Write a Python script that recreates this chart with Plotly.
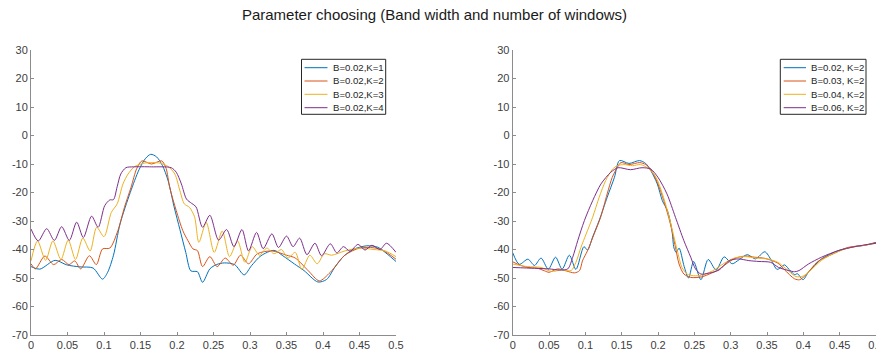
import plotly.graph_objects as go

W, H = 876, 356

# ---------------- Left panel: B = 0.02, K = 1..4 ----------------
f_k1 = [0, 0.012, 0.033, 0.049, 0.067, 0.085, 0.098, 0.105, 0.113, 0.122, 0.136, 0.148, 0.157,
        0.164, 0.172, 0.18, 0.188, 0.196, 0.204, 0.212, 0.219, 0.228, 0.235, 0.245, 0.254, 0.265,
        0.279, 0.292, 0.302, 0.315, 0.333, 0.345, 0.361, 0.374, 0.393, 0.405, 0.416, 0.429, 0.443,
        0.46, 0.475, 0.488, 0.5]
p_k1 = [-46, -46.9, -43.8, -45.4, -46.1, -46.5, -50.4, -48, -42, -31, -20, -12, -8,
        -6.6, -7.5, -10.5, -16, -25, -33, -41, -47.5, -47.8, -51.5, -46.8, -45.3, -44.7,
        -45.3, -48.9, -45.7, -42.2, -40.3, -42.2, -45.1, -47.4, -51.4, -50.5, -46.3, -42.2, -39.8,
        -38.7, -39.2, -41.6, -44.2]

f_k2 = [0, 0.006, 0.019, 0.031, 0.042, 0.052, 0.06, 0.068, 0.08, 0.0895, 0.098, 0.108, 0.119,
        0.128, 0.137, 0.145, 0.152, 0.165, 0.179, 0.185, 0.19, 0.199, 0.208, 0.215, 0.222, 0.228,
        0.235, 0.245, 0.255, 0.266, 0.277, 0.287, 0.298, 0.31, 0.33, 0.35, 0.362, 0.38, 0.395,
        0.41, 0.43, 0.45, 0.465, 0.48, 0.5]
p_k2 = [-45, -46.8, -42.3, -45.3, -43.5, -45.3, -44, -46.8, -42.2, -45.3, -39.8, -39.5, -33.4,
        -25.2, -18.2, -11.5, -8.9, -10, -8.9, -11.5, -18.2, -26.4, -33.4, -36.9, -39.8, -40.4,
        -46, -42.5, -46, -43, -45.5, -42, -45, -41.5, -40.5, -42, -43, -47.5, -51,
        -48, -42, -39.5, -39.3, -40, -43.4]

f_k3 = [0, 0.009, 0.02, 0.03, 0.041, 0.051, 0.061, 0.071, 0.081, 0.09, 0.1, 0.11, 0.118, 0.126,
        0.133, 0.142, 0.155, 0.166, 0.177, 0.188, 0.197, 0.204, 0.21, 0.217, 0.224, 0.23, 0.24,
        0.251, 0.262, 0.272, 0.283, 0.293, 0.303, 0.313, 0.323, 0.333, 0.343, 0.352, 0.362,
        0.371, 0.382, 0.392, 0.402, 0.412, 0.43, 0.45, 0.47, 0.485, 0.5]
p_k3 = [-44, -37, -43.8, -37, -43.5, -36.7, -43.5, -36, -40.5, -32.2, -35.5, -27, -24, -17,
        -13.5, -10.9, -9.7, -9.5, -9.7, -10.9, -13.5, -19.4, -24, -25.2, -28.5, -37.5, -30.5,
        -41, -33.5, -42.5, -37, -44.5, -39, -42, -39.5, -41.5, -40, -43, -41,
        -47, -42, -45, -41.5, -42, -40.5, -39.5, -40, -40.5, -42.5]

f_k4 = [0, 0.01, 0.0215, 0.032, 0.042, 0.0525, 0.0626, 0.0717, 0.083, 0.092, 0.101, 0.108,
        0.113, 0.118, 0.123, 0.13, 0.14, 0.165, 0.192, 0.199, 0.206, 0.213, 0.22, 0.226, 0.235,
        0.245, 0.257, 0.268, 0.278, 0.289, 0.298, 0.309, 0.318, 0.33, 0.339, 0.35, 0.359, 0.368,
        0.378, 0.389, 0.398, 0.41, 0.419, 0.428, 0.437, 0.448, 0.4575, 0.467, 0.478, 0.487, 0.5]
p_k4 = [-32.8, -37, -32.7, -36.8, -32, -36.8, -30.4, -35.8, -28.3, -32.2, -24.6, -22.6,
        -22.5, -18, -13.5, -11.3, -11, -11, -11.3, -12.9, -17, -22.3, -23.8, -25, -32.2,
        -28, -36.7, -33, -39, -33, -40.5, -34, -39.7, -34.5, -39.3, -35.3, -39, -36,
        -41.8, -37.8, -42.2, -38, -41.2, -39, -40.6, -38.2, -40.2, -38.5, -40, -37.8, -41]

# ---------------- Right panel: K = 2, B = 0.02..0.06 ----------------
f_b02 = [0, 0.009, 0.021, 0.03, 0.039, 0.049, 0.059, 0.068, 0.078, 0.087, 0.098, 0.103, 0.11,
         0.119, 0.13, 0.14, 0.147, 0.16, 0.1745, 0.183, 0.19, 0.199, 0.206, 0.213, 0.219, 0.222,
         0.225, 0.229, 0.236, 0.242, 0.249, 0.259, 0.269, 0.28, 0.291, 0.302, 0.312, 0.323, 0.334,
         0.347, 0.356, 0.364, 0.374, 0.382, 0.388, 0.392, 0.3995, 0.407, 0.425, 0.448, 0.47,
         0.485, 0.5]
p_b02 = [-41.1, -45.2, -43.4, -45.6, -43, -46.9, -42.7, -46.9, -42, -47, -39, -40.2, -35.6,
         -29.8, -21.7, -14.7, -8.8, -9.8, -8.8, -9.8, -12.3, -17, -22.9, -26.4, -33, -39.5,
         -41, -39.5, -46, -50, -44.2, -50.6, -43.5, -47.2, -42.6, -45, -43.5, -41.8, -43.3,
         -40.8, -43.8, -47, -45.4, -47.5, -48.8, -48.5, -50.6, -48, -43.3, -40.4, -39,
         -38.5, -37.5]

f_b03 = [0, 0.01, 0.021, 0.033, 0.044, 0.05, 0.062, 0.0735, 0.085, 0.092, 0.096, 0.103, 0.112,
         0.121, 0.13, 0.137, 0.144, 0.149, 0.16, 0.175, 0.183, 0.19, 0.199, 0.208, 0.217, 0.224,
         0.229, 0.2356, 0.245, 0.26, 0.2735, 0.283, 0.292, 0.306, 0.32, 0.333, 0.347, 0.365,
         0.374, 0.388, 0.395, 0.404, 0.42, 0.443, 0.461, 0.484, 0.5]
p_b03 = [-44.3, -45.5, -46.3, -46.5, -47.5, -48, -46.8, -47.5, -48.2, -47.4, -44, -40.4, -34.6,
         -28.7, -20.5, -14.7, -11.2, -9.5, -10.2, -9.5, -10.2, -11.8, -16.4, -22.9, -31, -39.2,
         -45.1, -48.6, -49.8, -49.6, -48.3, -47.1, -45.4, -43.1, -42.3, -42.7, -43.1, -44.8,
         -47.1, -50.3, -50.6, -48.8, -44.2, -41.3, -39.3, -38.5, -37.6]

f_b04 = [0, 0.02, 0.039, 0.053, 0.067, 0.0804, 0.087, 0.094, 0.101, 0.11, 0.119, 0.128, 0.1375,
         0.144, 0.153, 0.165, 0.176, 0.188, 0.1973, 0.206, 0.213, 0.22, 0.2265, 0.233, 0.24,
         0.249, 0.26, 0.275, 0.29, 0.305, 0.32, 0.335, 0.35, 0.365, 0.375, 0.39, 0.4, 0.41,
         0.425, 0.445, 0.465, 0.485, 0.5]
p_b04 = [-45.1, -46, -46.3, -47.7, -47.2, -47.4, -44.5, -39.2, -34.6, -28.7, -21.7, -15.8, -11.8,
         -10.6, -10.2, -10.6, -10.2, -11.8, -14.7, -20.5, -26.4, -33.5, -40.4, -46.3, -48.6,
         -49.2, -49, -47.5, -45, -43, -42.5, -43, -43.3, -44.5, -46.5, -49.5, -49.3, -47.3,
         -43.8, -41, -39.3, -38.5, -37.8]

f_b06 = [0, 0.03, 0.05, 0.065, 0.0758, 0.0826, 0.0895, 0.0986, 0.11, 0.1215, 0.135, 0.145,
         0.162, 0.178, 0.19, 0.2, 0.2123, 0.224, 0.2356, 0.245, 0.2516, 0.259, 0.27, 0.284,
         0.298, 0.311, 0.325, 0.339, 0.355, 0.366, 0.38, 0.388, 0.394, 0.407, 0.425, 0.448,
         0.471, 0.5]
p_b06 = [-46.3, -46.6, -46.8, -47.2, -46.8, -42.7, -36.9, -29.9, -22.9, -17, -12.9, -11.3,
         -12, -11.3, -11.8, -14.7, -20.5, -28.7, -36.9, -42.7, -46.8, -48.6, -48.3, -47.2,
         -43.9, -43.3, -43.9, -44.2, -44.5, -46.3, -47.4, -47.8, -47.4, -45.1, -42.7, -40.4,
         -39, -37.8]

labels_left = ["B=0.02,K=1", "B=0.02,K=2", "B=0.02,K=3", "B=0.02,K=4"]
labels_right = ["B=0.02, K=2", "B=0.03, K=2", "B=0.04, K=2", "B=0.06, K=2"]
colors = ["#0072BD", "#D95319", "#EDB120", "#7E2F8E"]

x_ticks = [0, 0.05, 0.1, 0.15, 0.2, 0.25, 0.3, 0.35, 0.4, 0.45, 0.5]
x_ticktext = ["0", "0.05", "0.1", "0.15", "0.2", "0.25", "0.3", "0.35", "0.4", "0.45", "0.5"]
y_ticks = [-70, -60, -50, -40, -30, -20, -10, 0, 10, 20, 30]
y_ticktext = ["-70", "-60", "-50", "-40", "-30", "-20", "-10", "0", "10", "20", "30"]

title_text = "Parameter choosing (Band width and number of windows)"

FONT = "Liberation Sans, Arial, Helvetica, sans-serif"


def px_x(px):
    return px / W


def px_y(py):
    return 1 - py / H


fig = go.Figure()

left_series = [(f_k1, p_k1), (f_k2, p_k2), (f_k3, p_k3), (f_k4, p_k4)]
right_series = [(f_b02, p_b02), (f_b03, p_b03), (f_b04, p_b04), (f_b06, p_b06)]

for (xs, ys), name, c in zip(left_series, labels_left, colors):
    fig.add_trace(go.Scatter(x=xs, y=ys, name=name, mode="lines",
                             line=dict(color=c, width=1, shape="spline", smoothing=0.8),
                             xaxis="x", yaxis="y", showlegend=False, hoverinfo="skip"))
for (xs, ys), name, c in zip(right_series, labels_right, colors):
    fig.add_trace(go.Scatter(x=xs, y=ys, name=name, mode="lines",
                             line=dict(color=c, width=1, shape="spline", smoothing=0.8),
                             xaxis="x2", yaxis="y2", showlegend=False, hoverinfo="skip"))

axis_common = dict(showline=True, linecolor="#8c8c8c", linewidth=1, mirror=False,
                   ticks="inside", ticklen=3, tickcolor="#8c8c8c", tickwidth=1,
                   showgrid=False, zeroline=False, automargin=False,
                   ticklabeloverflow="allow",
                   tickfont=dict(family=FONT, size=11, color="#404040"))

y_dom = [px_y(335), px_y(50)]
fig.update_layout(
    template="none",
    width=W, height=H,
    margin=dict(l=0, r=0, t=0, b=0, pad=0, autoexpand=False),
    paper_bgcolor="white", plot_bgcolor="white",
    font=dict(family=FONT),
    showlegend=False,
    title=dict(text=title_text, x=px_x(434.5), y=px_y(15), xanchor="center", yanchor="middle",
               xref="paper", yref="paper", automargin=False,
               font=dict(family=FONT, size=15, color="#1a1a1a")),
    xaxis=dict(domain=[px_x(31), px_x(396)], range=[0, 0.5], anchor="y",
               tickvals=x_ticks, ticktext=x_ticktext, **axis_common),
    yaxis=dict(domain=y_dom, range=[-70, 30], anchor="x",
               tickvals=y_ticks, ticktext=y_ticktext, **axis_common),
    xaxis2=dict(domain=[px_x(512.7), 1.0], range=[0, 0.5], anchor="y2",
                tickvals=x_ticks, ticktext=x_ticktext, **axis_common),
    yaxis2=dict(domain=y_dom, range=[-70, 30], anchor="x2",
                tickvals=y_ticks, ticktext=y_ticktext, **axis_common),
)

# Legend boxes drawn in paper coordinates
shapes = []
annotations = []
legend_specs = [
    (labels_left, 301.5, 385.7, 304.5, 327.5, 330.5),
    (labels_right, 780.3, 866.0, 783.7, 806.0, 808.5),
]
row_y = [67.7, 81.0, 94.3, 107.7]
for labels, bx0, bx1, lx0, lx1, tx in legend_specs:
    shapes.append(dict(type="rect", xref="paper", yref="paper",
                       x0=px_x(bx0), x1=px_x(bx1), y0=px_y(114.3), y1=px_y(59.3),
                       line=dict(color="#262626", width=1), fillcolor="white", layer="above"))
    for lab, c, ry in zip(labels, colors, row_y):
        shapes.append(dict(type="line", xref="paper", yref="paper",
                           x0=px_x(lx0), x1=px_x(lx1), y0=px_y(ry), y1=px_y(ry),
                           line=dict(color=c, width=1), layer="above"))
        annotations.append(dict(text=lab, xref="paper", yref="paper", x=px_x(tx), y=px_y(ry),
                                xanchor="left", yanchor="middle", showarrow=False,
                                font=dict(family=FONT, size=9.6, color="#262626")))

fig.update_layout(shapes=shapes, annotations=annotations)

fig.write_html("out.html")
